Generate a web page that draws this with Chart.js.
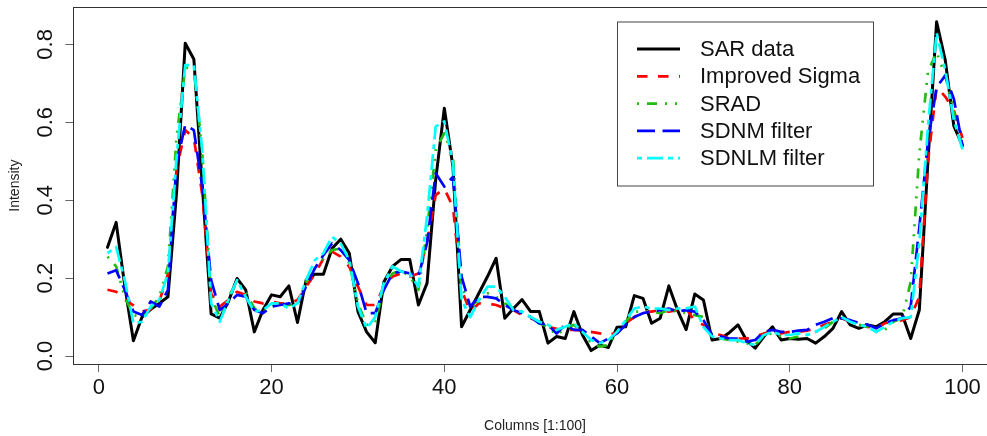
<!DOCTYPE html>
<html>
<head>
<meta charset="utf-8">
<script src="https://cdn.jsdelivr.net/npm/chart.js@4.4.0/dist/chart.umd.min.js"></script>
<style>
  html, body { margin: 0; padding: 0; background: #fff; overflow: hidden; }
  #wrap { width: 1000px; height: 436px; }
</style>
</head>
<body>
<div id="wrap"><canvas id="chart" width="1000" height="436"></canvas></div>
<script>
var columns = [];
for (var c = 1; c <= 100; c++) columns.push(c);

var sarData = [
  0.279, 0.343, 0.18, 0.039, 0.10, 0.12, 0.135, 0.152, 0.42, 0.803,
  0.762, 0.43, 0.108, 0.097, 0.14, 0.199, 0.17, 0.062, 0.118, 0.157,
  0.152, 0.18, 0.086, 0.195, 0.21, 0.21, 0.276, 0.30, 0.264, 0.114,
  0.062, 0.034, 0.19, 0.23, 0.248, 0.248, 0.131, 0.187, 0.452, 0.636,
  0.486, 0.075, 0.118, 0.161, 0.204, 0.251, 0.097, 0.122, 0.145, 0.114,
  0.114, 0.033, 0.05, 0.045, 0.114, 0.054, 0.014, 0.028, 0.022, 0.074,
  0.075, 0.155, 0.148, 0.084, 0.097, 0.18, 0.118, 0.068, 0.159, 0.144,
  0.041, 0.045, 0.06, 0.08, 0.04, 0.02, 0.05, 0.075, 0.041, 0.045,
  0.043, 0.045, 0.033, 0.05, 0.071, 0.114, 0.08, 0.071, 0.08, 0.075,
  0.088, 0.108, 0.108, 0.045, 0.118, 0.50, 0.858, 0.76, 0.59, 0.54
];
var sigmaData = [
  0.17, 0.165, 0.145, 0.13, 0.114, 0.12, 0.14, 0.21, 0.48, 0.58,
  0.56, 0.41, 0.16, 0.127, 0.144, 0.165, 0.157, 0.14, 0.135, 0.14,
  0.135, 0.135, 0.144, 0.178, 0.21, 0.25, 0.268, 0.255, 0.229, 0.178,
  0.131, 0.131, 0.178, 0.204, 0.212, 0.204, 0.212, 0.29, 0.413, 0.43,
  0.383, 0.17, 0.114, 0.135, 0.135, 0.131, 0.122, 0.118, 0.105, 0.097,
  0.088, 0.075, 0.07, 0.067, 0.067, 0.065, 0.062, 0.058, 0.054, 0.06,
  0.084, 0.1, 0.114, 0.114, 0.118, 0.114, 0.118, 0.122, 0.09, 0.08,
  0.058, 0.054, 0.045, 0.045, 0.045, 0.05, 0.058, 0.062, 0.058, 0.062,
  0.062, 0.065, 0.071, 0.08, 0.088, 0.097, 0.088, 0.08, 0.075, 0.071,
  0.084, 0.088, 0.092, 0.1, 0.152, 0.50, 0.69, 0.666, 0.63, 0.56
];
var sradData = [
  0.255, 0.23, 0.152, 0.105, 0.1, 0.122, 0.152, 0.23, 0.563, 0.739,
  0.743, 0.512, 0.152, 0.1, 0.152, 0.19, 0.165, 0.122, 0.114, 0.127,
  0.135, 0.131, 0.135, 0.19, 0.225, 0.25, 0.272, 0.276, 0.238, 0.135,
  0.08, 0.084, 0.178, 0.212, 0.22, 0.204, 0.17, 0.323, 0.529, 0.572,
  0.512, 0.178, 0.127, 0.144, 0.161, 0.152, 0.135, 0.122, 0.114, 0.1,
  0.084, 0.075, 0.054, 0.071, 0.08, 0.062, 0.033, 0.024, 0.028, 0.062,
  0.088, 0.114, 0.114, 0.114, 0.11, 0.118, 0.114, 0.11, 0.105, 0.1,
  0.054, 0.045, 0.041, 0.037, 0.033, 0.028, 0.054, 0.058, 0.05, 0.045,
  0.05, 0.054, 0.062, 0.071, 0.088, 0.097, 0.088, 0.08, 0.075, 0.062,
  0.067, 0.088, 0.097, 0.19, 0.52, 0.73, 0.78, 0.72, 0.63, 0.54
];
var sdnmData = [
  0.212, 0.22, 0.17, 0.114, 0.105, 0.14, 0.127, 0.17, 0.495, 0.593,
  0.58, 0.43, 0.195, 0.118, 0.135, 0.157, 0.152, 0.118, 0.11, 0.127,
  0.131, 0.135, 0.135, 0.178, 0.225, 0.259, 0.289, 0.272, 0.246, 0.187,
  0.11, 0.11, 0.17, 0.212, 0.217, 0.212, 0.204, 0.29, 0.469, 0.435,
  0.46, 0.204, 0.127, 0.152, 0.152, 0.148, 0.131, 0.118, 0.11, 0.1,
  0.084, 0.08, 0.058, 0.08, 0.067, 0.067, 0.05, 0.033, 0.045, 0.058,
  0.08, 0.1, 0.11, 0.114, 0.118, 0.122, 0.114, 0.118, 0.114, 0.092,
  0.054, 0.05, 0.045, 0.045, 0.037, 0.041, 0.062, 0.067, 0.062, 0.062,
  0.065, 0.067, 0.08, 0.088, 0.097, 0.097, 0.092, 0.085, 0.08, 0.071,
  0.084, 0.092, 0.097, 0.127, 0.33, 0.55, 0.69, 0.72, 0.66, 0.54
];
var sdnlmData = [
  0.264, 0.28, 0.195, 0.084, 0.088, 0.127, 0.144, 0.212, 0.51, 0.747,
  0.747, 0.52, 0.135, 0.088, 0.144, 0.195, 0.152, 0.114, 0.118, 0.135,
  0.135, 0.122, 0.135, 0.195, 0.246, 0.264, 0.306, 0.289, 0.246, 0.127,
  0.071, 0.1, 0.187, 0.23, 0.217, 0.212, 0.178, 0.358, 0.589, 0.602,
  0.495, 0.144, 0.1, 0.144, 0.178, 0.178, 0.152, 0.118, 0.114, 0.1,
  0.088, 0.08, 0.067, 0.075, 0.084, 0.062, 0.041, 0.033, 0.041, 0.062,
  0.092, 0.122, 0.127, 0.122, 0.122, 0.118, 0.122, 0.122, 0.127, 0.075,
  0.05, 0.045, 0.041, 0.041, 0.033, 0.028, 0.054, 0.062, 0.054, 0.054,
  0.058, 0.054, 0.062, 0.075, 0.088, 0.1, 0.088, 0.08, 0.075, 0.062,
  0.075, 0.088, 0.097, 0.1, 0.29, 0.589, 0.83, 0.734, 0.606, 0.53
];

var seriesNames = ['SAR data', 'Improved Sigma', 'SRAD', 'SDNM filter', 'SDNLM filter'];
var xTicks = [0, 20, 40, 60, 80, 100];
var yTicks = [0, 0.2, 0.4, 0.6, 0.8];
var yTickLabels = ['0.0', '0.2', '0.4', '0.6', '0.8'];

var fontFamily = '"Liberation Sans", Arial, Helvetica, sans-serif';

function points(values) {
  return columns.map(function (c, i) { return { x: c, y: values[i] }; });
}

function lineSet(label, values, color, dash, width, order) {
  return {
    label: label,
    data: points(values),
    borderColor: color,
    borderWidth: width,
    borderDash: dash,
    borderCapStyle: dash.length ? 'butt' : 'round',
    borderJoinStyle: 'round',
    pointRadius: 0,
    tension: 0,
    fill: false,
    order: order
  };
}

var rStyle = {
  id: 'rStyle',
  beforeDraw: function (chart) {
    var ctx = chart.ctx;
    ctx.save();
    ctx.fillStyle = '#fff';
    ctx.fillRect(0, 0, chart.width, chart.height);
    ctx.restore();
  },
  afterDraw: function (chart) {
    var ctx = chart.ctx;
    var area = chart.chartArea;
    var yScale = chart.scales.y;
    ctx.save();

    // plot frame
    ctx.strokeStyle = '#333';
    ctx.lineWidth = 1;
    ctx.setLineDash([]);
    ctx.strokeRect(Math.round(area.left) + 0.5, Math.round(area.top) + 0.5,
      Math.round(area.right - area.left), Math.round(area.bottom - area.top));

    // rotated y tick labels
    ctx.fillStyle = '#111';
    ctx.font = '22px ' + fontFamily;
    ctx.textAlign = 'center';
    ctx.textBaseline = 'middle';
    yTicks.forEach(function (v, i) {
      var py = yScale.getPixelForValue(v);
      ctx.save();
      ctx.translate(45.5, py);
      ctx.rotate(-Math.PI / 2);
      ctx.fillText(yTickLabels[i], 0, 0);
      ctx.restore();
    });

    // axis titles
    ctx.fillStyle = '#222';
    ctx.font = '14px ' + fontFamily;
    ctx.save();
    ctx.translate(15, (area.top + area.bottom) / 2);
    ctx.rotate(-Math.PI / 2);
    ctx.fillText('Intensity', 0, 0);
    ctx.restore();
    ctx.fillText('Columns [1:100]', (area.left + area.right) / 2, 426);

    // legend box
    var lx = 617, ly = 21.5, lw = 256, lh = 164;
    ctx.fillStyle = '#fff';
    ctx.fillRect(lx, ly, lw, lh);
    ctx.strokeStyle = '#444';
    ctx.lineWidth = 1;
    ctx.strokeRect(lx + 0.5, ly + 0.5, lw, lh);

    ctx.font = '22px ' + fontFamily;
    ctx.textAlign = 'left';
    chart.data.datasets.forEach(function (ds, i) {
      var rowY = 49 + i * 27.3;
      ctx.strokeStyle = ds.borderColor;
      ctx.lineWidth = ds.borderWidth;
      ctx.lineCap = 'butt';
      ctx.setLineDash(ds.borderDash);
      ctx.beginPath();
      ctx.moveTo(637, rowY);
      ctx.lineTo(680, rowY);
      ctx.stroke();
      ctx.setLineDash([]);
      ctx.fillStyle = '#111';
      ctx.fillText(ds.label, 700, rowY + 1);
    });
    ctx.restore();
  }
};

new Chart(document.getElementById('chart'), {
  type: 'line',
  data: {
    datasets: [
      lineSet(seriesNames[0], sarData, '#000000', [], 3, 4),
      lineSet(seriesNames[1], sigmaData, '#FF0000', [10.5, 10.5], 2.7, 3),
      lineSet(seriesNames[2], sradData, '#22BB11', [2, 8, 10, 8, 2, 8], 2.7, 2),
      lineSet(seriesNames[3], sdnmData, '#0000FF', [18, 7.5], 2.7, 1),
      lineSet(seriesNames[4], sdnlmData, '#00FFFF', [5, 5, 16, 5], 2.7, 0)
    ]
  },
  options: {
    responsive: false,
    animation: false,
    devicePixelRatio: 1,
    layout: { padding: { left: 0, right: 3.3, top: 7.3, bottom: 0 } },
    plugins: {
      legend: { display: false },
      tooltip: { enabled: false }
    },
    scales: {
      x: {
        type: 'linear',
        min: -2.96,
        max: 103.96,
        afterBuildTicks: function (scale) {
          scale.ticks = xTicks.map(function (v) { return { value: v }; });
        },
        afterFit: function (scale) { scale.height = 72; },
        border: { display: false },
        grid: { display: true, drawOnChartArea: false, drawTicks: true, tickLength: 8, color: '#666' },
        ticks: {
          color: '#111',
          padding: 3,
          maxRotation: 0,
          autoSkip: false,
          font: { family: fontFamily, size: 22 },
          callback: function (v) { return String(v); }
        }
      },
      y: {
        type: 'linear',
        min: -0.0205,
        max: 0.8952,
        afterBuildTicks: function (scale) {
          scale.ticks = yTicks.map(function (v) { return { value: v }; });
        },
        afterFit: function (scale) { scale.width = 73.3; },
        border: { display: false },
        grid: { display: true, drawOnChartArea: false, drawTicks: true, tickLength: 8, color: '#666' },
        ticks: { display: false }
      }
    }
  },
  plugins: [rStyle]
});
</script>
</body>
</html>
